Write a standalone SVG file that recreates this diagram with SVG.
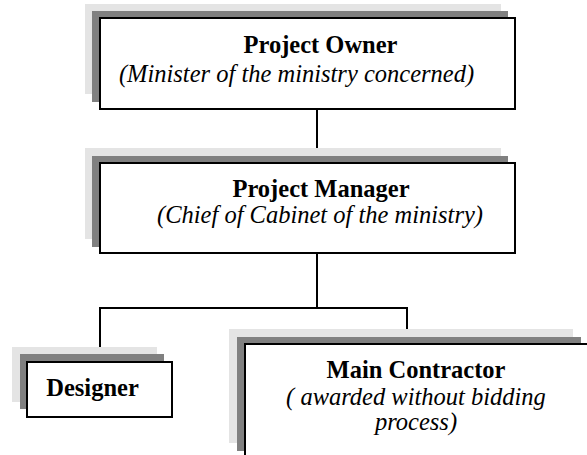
<svg xmlns="http://www.w3.org/2000/svg" width="587" height="455" viewBox="0 0 587 455" font-family="Liberation Serif, serif">
  <style>
    .shadow-far { fill: #e4e4e4; }
    .shadow-near { fill: #808080; }
    .box { fill: #ffffff; stroke: #000000; stroke-width: 2; }
    .link { fill: none; stroke: #000000; stroke-width: 2; }
    .title { font-size: 24.5px; font-weight: bold; text-anchor: middle; fill: #000; }
    .note { font-size: 24.5px; font-style: italic; text-anchor: middle; fill: #000; }
  </style>
  <rect width="587" height="455" fill="#ffffff"/>

  <!-- connectors -->
  <g id="connectors">
    <path class="link" d="M317,109 V163"/>
    <path class="link" d="M317,253 V308"/>
    <path class="link" d="M100,362 V308 H407 V344"/>
  </g>

  <g id="project-owner">
    <rect class="shadow-far" x="85" y="4" width="416" height="90"/>
    <rect class="shadow-near" x="92" y="11" width="416" height="91"/>
    <rect class="box" x="100" y="18" width="415" height="91"/>
    <text class="title" x="320.5" y="53" font-family="Liberation Serif">Project Owner</text>
    <text class="note" x="296.5" y="82" font-family="Liberation Serif">(Minister of the ministry concerned)</text>
  </g>

  <g id="project-manager">
    <rect class="shadow-far" x="85" y="148" width="416" height="91"/>
    <rect class="shadow-near" x="92" y="156" width="416" height="91"/>
    <rect class="box" x="100" y="163" width="415" height="90"/>
    <text class="title" x="321" y="197" font-family="Liberation Serif">Project Manager</text>
    <text class="note" x="320" y="223" font-family="Liberation Serif">(Chief of Cabinet of the ministry)</text>
  </g>

  <g id="designer">
    <rect class="shadow-far" x="12" y="347" width="145" height="55"/>
    <rect class="shadow-near" x="20" y="354" width="144" height="55"/>
    <rect class="box" x="27" y="362" width="145" height="55"/>
    <text class="title" x="92.5" y="396" font-family="Liberation Serif">Designer</text>
  </g>

  <g id="main-contractor">
    <rect class="shadow-far" x="229" y="329" width="344" height="114"/>
    <rect class="shadow-near" x="237" y="337" width="344" height="114"/>
    <rect class="box" x="245" y="344" width="344" height="114"/>
    <text class="title" x="416" y="378" font-family="Liberation Serif">Main Contractor</text>
    <text class="note" x="416" y="405" font-family="Liberation Serif">( awarded without bidding</text>
    <text class="note" x="416" y="430" font-family="Liberation Serif">process)</text>
  </g>
</svg>
